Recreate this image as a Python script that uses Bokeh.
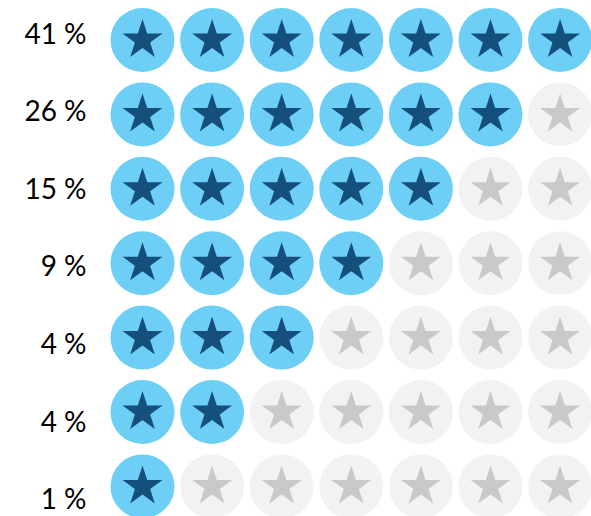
from bokeh.plotting import figure
from bokeh.models import Range1d, ColumnDataSource
from bokeh.core.properties import value
from bokeh.embed import file_html
from bokeh.resources import INLINE

# ---- data ----
labels = ["41 %", "26 %", "15 %", "9 %", "4 %", "4 %", "1 %"]
shares = [41, 26, 15, 9, 4, 4, 1]
stars_on = [7, 6, 5, 4, 3, 2, 1]
n_cols = 7

# ---- layout (pixel-like data space) ----
W, H = 591, 516
X0, DX = 142, 69.6
Y0, DY = 39.5, 74.4
LX, LY0, LDY = 86, 32, 77.6

BLUE, NAVY = "#6DCFF6", "#154F7C"
GREY_BG, GREY_STAR = "#F2F2F2", "#C9C9C9"

xs, ys, bg, fg = [], [], [], []
for i, n_on in enumerate(stars_on):
    for j in range(n_cols):
        xs.append(X0 + j * DX)
        ys.append(Y0 + i * DY)
        on = j < n_on
        bg.append(BLUE if on else GREY_BG)
        fg.append(NAVY if on else GREY_STAR)

src = ColumnDataSource(dict(x=xs, y=ys, bg=bg, fg=fg))
lab_src = ColumnDataSource(dict(x=[LX] * len(labels),
                                y=[LY0 + i * LDY for i in range(len(labels))],
                                t=labels))

p = figure(width=W, height=H, output_backend="svg", toolbar_location=None,
           x_range=Range1d(0, W), y_range=Range1d(H, 0),
           min_border=0, outline_line_color=None)
p.axis.visible = False
p.grid.visible = False
p.background_fill_color = "white"
p.border_fill_color = "white"

p.scatter("x", "y", source=src, marker="circle", size=64,
          fill_color="bg", line_color=None)
p.scatter("x", "y", source=src, marker="star", size=42,
          fill_color="fg", line_color=None)
p.text("x", "y", text="t", source=lab_src, text_align="right",
       text_baseline="middle", text_font=value("Lato"),
       text_font_size="28px", text_color="black")

open("out.html", "w").write(file_html(p, INLINE))
